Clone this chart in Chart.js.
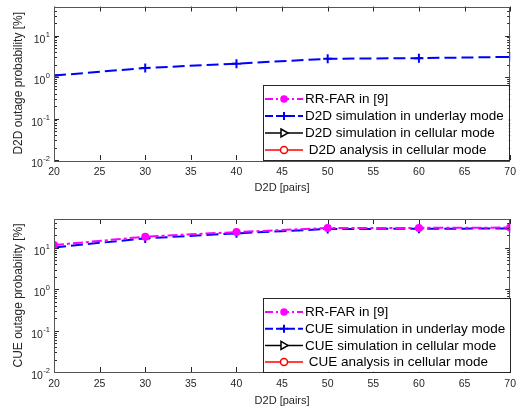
<!DOCTYPE html>
<html>
<head>
<meta charset="utf-8">
<script src="https://cdn.jsdelivr.net/npm/chart.js@4.4.0/dist/chart.umd.min.js"></script>
<style>
    body { margin: 0; background: #fff; width: 522px; height: 408px; overflow: hidden; position: relative; }
    canvas { position: absolute; left: 0; }
    #d2dChart { top: 0; }
    #cueChart { top: 204px; }
</style>
</head>
<body>
<canvas id="d2dChart" width="522" height="202"></canvas>
<canvas id="cueChart" width="522" height="204"></canvas>
<script>
    // x values (number of D2D pairs) and tick values
    const pairs = [20, 30, 40, 50, 60, 70];
    const xTicks = [20, 25, 30, 35, 40, 45, 50, 55, 60, 65, 70];
    const yDecades = [-2, -1, 0, 1];

    // D2D outage probability [%] (series without visible marks are off the log axis)
    const d2dRrFar = [null, null, null, null, null, null];
    const d2dUnderlaySim = [1.08, 1.65, 2.1, 2.75, 2.85, 3.05];
    const d2dCellularSim = [null, null, null, null, null, null];
    const d2dCellularAna = [null, null, null, null, null, null];

    // CUE outage probability [%]
    const cueRrFar = [11.7, 18.7, 24.2, 30.3, 30.5, 31];
    const cueUnderlaySim = [10.3, 17, 22.5, 28.7, 29, 29.5];
    const cueCellularSim = [null, null, null, null, null, null];
    const cueCellularAna = [null, null, null, null, null, null];

    const FONT = '"Liberation Sans", Arial, sans-serif';
    const AXIS_COLOR = '#262626';

    function toPoints(values) {
        return pairs.map((x, i) => ({ x: x, y: values[i] }));
    }

    function makeDatasets(prefix, rrFar, underlay, cellSim, cellAna) {
        return [
            {
                label: 'RR-FAR in [9]', data: toPoints(rrFar),
                borderColor: '#ff00ff', backgroundColor: '#ff00ff', borderWidth: 2,
                borderDash: [10, 3, 3, 3], pointStyle: 'circle', pointRadius: 3
            },
            {
                label: prefix + ' simulation in underlay mode', data: toPoints(underlay),
                borderColor: '#0000ff', backgroundColor: '#0000ff', borderWidth: 2,
                borderDash: [12, 5], pointStyle: 'cross', pointRadius: 4.5, pointBorderWidth: 2
            },
            {
                label: prefix + ' simulation in cellular mode', data: toPoints(cellSim),
                borderColor: '#000000', backgroundColor: '#ffffff', borderWidth: 1.5,
                borderDash: [], pointStyle: 'triangle', pointRotation: 90, pointRadius: 4, pointBorderWidth: 1.5
            },
            {
                label: ' ' + prefix + ' analysis in cellular mode', data: toPoints(cellAna),
                borderColor: '#ff0000', backgroundColor: '#ffffff', borderWidth: 1.5,
                borderDash: [], pointStyle: 'circle', pointRadius: 3.5, pointBorderWidth: 1.5
            }
        ];
    }

    // small marker for the legend
    function legendMarker(ctx, d, x, y) {
        ctx.save();
        ctx.setLineDash([]);
        ctx.strokeStyle = d.borderColor;
        ctx.fillStyle = d.backgroundColor;
        ctx.lineWidth = d.pointBorderWidth || 1.5;
        ctx.beginPath();
        if (d.pointStyle === 'cross') {
            ctx.moveTo(x - 4, y); ctx.lineTo(x + 4, y);
            ctx.moveTo(x, y - 4); ctx.lineTo(x, y + 4);
            ctx.stroke();
        } else if (d.pointStyle === 'triangle') {
            ctx.moveTo(x - 3, y - 4); ctx.lineTo(x + 4, y); ctx.lineTo(x - 3, y + 4); ctx.closePath();
            ctx.fill(); ctx.stroke();
        } else {
            ctx.arc(x, y, d.pointRadius, 0, Math.PI * 2);
            ctx.fill(); ctx.stroke();
        }
        ctx.restore();
    }

    const matlabFrame = {
        id: 'matlabFrame',
        afterDraw(chart) {
            const { ctx, chartArea: a } = chart;
            const xs = chart.scales.x, ys = chart.scales.y;
            ctx.save();
            ctx.strokeStyle = AXIS_COLOR;
            ctx.lineWidth = 1;
            ctx.setLineDash([]);
            ctx.beginPath();
            // x ticks, inward on bottom and top
            xTicks.forEach(v => {
                const px = Math.round(xs.getPixelForValue(v)) + 0.5;
                ctx.moveTo(px, a.bottom); ctx.lineTo(px, a.bottom - 5);
                ctx.moveTo(px, a.top); ctx.lineTo(px, a.top + 5);
            });
            // y ticks, log minor and major
            yDecades.forEach(e => {
                for (let k = 1; k <= 9; k++) {
                    const v = k * Math.pow(10, e);
                    if (v > ys.max) break;
                    const py = Math.round(ys.getPixelForValue(v)) + 0.5;
                    const len = k === 1 ? 5 : 3;
                    ctx.moveTo(a.left, py); ctx.lineTo(a.left + len, py);
                    ctx.moveTo(a.right, py); ctx.lineTo(a.right - len, py);
                }
            });
            ctx.stroke();
            ctx.strokeStyle = '#555';
            ctx.strokeRect(Math.round(a.left) + 0.5, Math.round(a.top) + 0.5,
                Math.round(a.right - a.left) - 1, Math.round(a.bottom - a.top));

            // y tick labels: 10 with raised exponent
            ctx.fillStyle = AXIS_COLOR;
            ctx.textBaseline = 'alphabetic';
            yDecades.forEach(e => {
                const py = ys.getPixelForValue(Math.pow(10, e));
                const exp = String(e);
                ctx.font = '7.5px ' + FONT;
                const ew = ctx.measureText(exp).width;
                ctx.fillText(exp, 50 - ew, py + 1);
                ctx.font = '10.5px ' + FONT;
                const bw = ctx.measureText('10').width;
                ctx.fillText('10', 50 - ew - bw - 0.5, py + 7);
            });

            // legend box
            const items = chart.data.datasets;
            ctx.font = '13.5px ' + FONT;
            const textW = Math.max(...items.map(d => ctx.measureText(d.label).width));
            const rowH = chart.options.plugins.matlabFrame.rowH;
            const left = 263;
            const w = 42 + textW + 5;
            const h = rowH * items.length + 7;
            const top = Math.round(a.bottom - h);
            ctx.fillStyle = '#fff';
            ctx.fillRect(left, top, w, h);
            ctx.strokeStyle = AXIS_COLOR;
            ctx.strokeRect(left + 0.5, top + 0.5, Math.round(w), Math.round(a.bottom - top));
            items.forEach((d, i) => {
                const y = top + 14 + i * rowH;
                ctx.save();
                ctx.strokeStyle = d.borderColor;
                ctx.lineWidth = d.borderWidth;
                ctx.setLineDash(d.borderDash.length ? [8, 3, 2, 3].slice(0, d.borderDash.length === 2 ? 2 : 4) : []);
                ctx.beginPath();
                ctx.moveTo(left + 2, y); ctx.lineTo(left + 40, y);
                ctx.stroke();
                ctx.restore();
                legendMarker(ctx, d, left + 21, y);
                ctx.fillStyle = '#000';
                ctx.textBaseline = 'middle';
                ctx.fillText(d.label, left + 42, y + 0.5);
            });
            ctx.restore();
        }
    };

    function makeChart(canvasId, datasets, yTitle, opts) {
        const ctx = document.getElementById(canvasId).getContext('2d');
        const canvasH = document.getElementById(canvasId).height;
        return new Chart(ctx, {
            type: 'line',
            data: { datasets: datasets },
            plugins: [matlabFrame],
            options: {
                responsive: false,
                animation: false,
                layout: { padding: { top: opts.padTop, right: 2, left: 0, bottom: 0 } },
                plugins: {
                    legend: { display: false },
                    tooltip: { enabled: false },
                    matlabFrame: { rowH: opts.rowH }
                },
                scales: {
                    x: {
                        type: 'linear',
                        min: 20,
                        max: 70,
                        grid: { display: false, drawTicks: false },
                        border: { display: false },
                        ticks: {
                            stepSize: 5,
                            padding: 6,
                            color: AXIS_COLOR,
                            font: { family: FONT, size: 10.5 }
                        },
                        title: {
                            display: true,
                            text: 'D2D [pairs]',
                            color: AXIS_COLOR,
                            font: { family: FONT, size: 11 },
                            padding: { top: 0, bottom: opts.xTitlePad }
                        },
                        afterFit(scale) { scale.height = canvasH - opts.areaBottom; }
                    },
                    y: {
                        type: 'logarithmic',
                        min: 0.01,
                        max: 50,
                        grid: { display: false, drawTicks: false },
                        border: { display: false },
                        ticks: { display: false },
                        title: {
                            display: true,
                            text: yTitle,
                            color: AXIS_COLOR,
                            font: { family: FONT, size: 12 },
                            padding: { top: 11, bottom: 0 }
                        },
                        afterFit(scale) { scale.width = 54; }
                    }
                }
            }
        });
    }

    makeChart('d2dChart',
        makeDatasets('D2D', d2dRrFar, d2dUnderlaySim, d2dCellularSim, d2dCellularAna),
        'D2D outage probability [%]',
        { padTop: 6, areaBottom: 160, xTitlePad: 7, rowH: 17 });

    makeChart('cueChart',
        makeDatasets('CUE', cueRrFar, cueUnderlaySim, cueCellularSim, cueCellularAna),
        'CUE outage probability [%]',
        { padTop: 15, areaBottom: 168, xTitlePad: 0, rowH: 16.7 });
</script>
</body>
</html>
